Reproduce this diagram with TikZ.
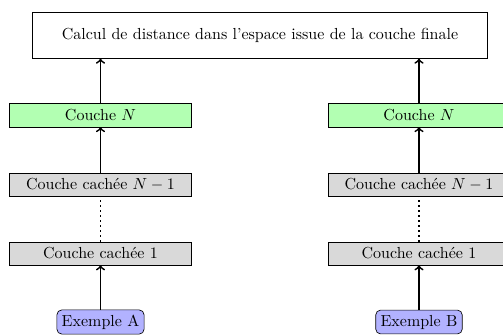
\documentclass[tikz,border=0pt]{standalone}
\usepackage{tikz}
\usetikzlibrary{calc,arrows,positioning}

\tikzset{
  couche/.style={draw,fill=gray!30,minimum width=113.8pt,minimum height=14.4pt,inner sep=1pt},
  finale/.style={draw,fill=green!30,minimum width=113.8pt,minimum height=14.4pt,inner sep=1pt},
  exemple/.style={draw,fill=blue!30,rounded corners=3pt,minimum height=14.4pt,inner sep=3pt},
  fleche/.style={->,line width=1.1pt}
}

\begin{document}
\begin{tikzpicture}[x=0.625pt,y=-0.625pt]
        \useasboundingbox (0,0) rectangle (503,334);
        % distance finale
        \node[draw,minimum width=284.4pt,minimum height=28.8pt] (dist) at (260,35.3) {Calcul de distance dans l'espace issue de la couche finale};
        
        % reseau A
        \node[finale] (nA) at (100.5,115.3) {Couche $N$};
        \node[couche] (hA) at (100.5,184.5) {Couche cach\'ee $N-1$};
        \node[couche] (uA) at (100.5,253.5) {Couche cach\'ee $1$};
        \node[exemple] (eA) at (100.5,322) {Exemple A};
        
        % reseau B
        \node[finale] (nB) at (419,115.3) {Couche $N$};
        \node[couche] (hB) at (419,184.5) {Couche cach\'ee $N-1$};
        \node[couche] (uB) at (419,253.5) {Couche cach\'ee $1$};
        \node[exemple] (eB) at (419,322) {Exemple B};
        
        \draw[fleche] (eA) -- (uA);
        \draw[line width=1.1pt,dotted] (uA) -- (hA);
        \draw[fleche] (hA) -- (nA);
        \draw[fleche] (nA) -- (nA |- dist.south);
        
        \draw[fleche] (eB) -- (uB);
        \draw[line width=1.1pt,dotted] (uB) -- (hB);
        \draw[fleche] (hB) -- (nB);
        \draw[fleche] (nB) -- (nB |- dist.south);
\end{tikzpicture}
\end{document}
